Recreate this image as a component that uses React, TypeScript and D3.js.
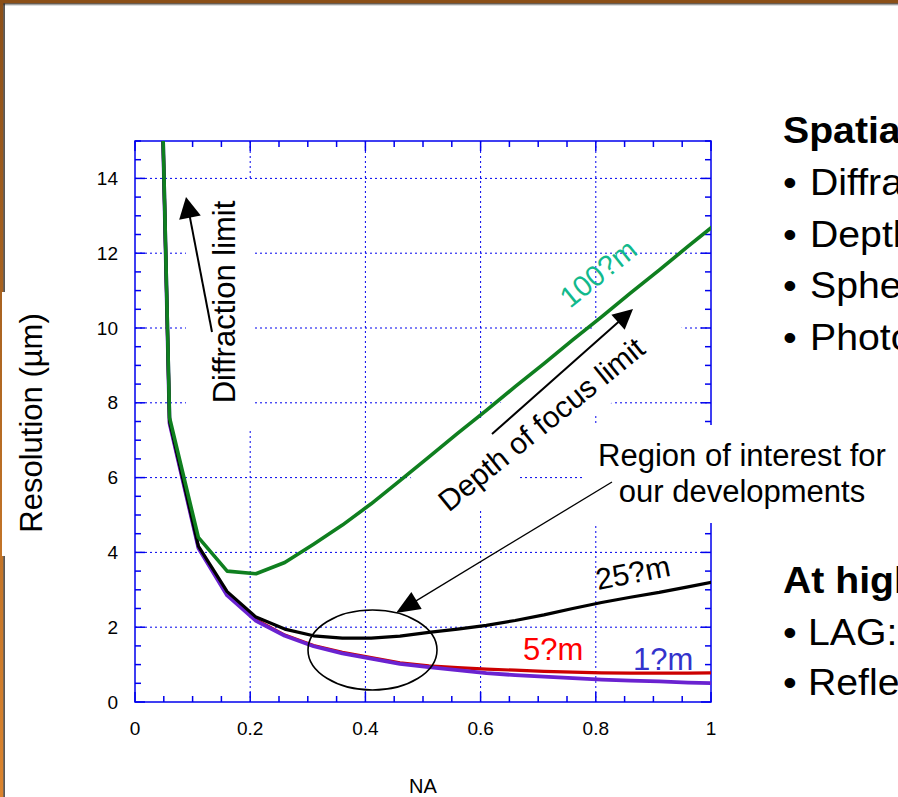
import React from "react";
import * as d3 from "d3";

// Numerical aperture sample points
const NA = [0.01, 0.06, 0.11, 0.16, 0.21, 0.26, 0.31, 0.36, 0.41, 0.46, 0.51, 0.56, 0.61, 0.66, 0.71, 0.76, 0.81, 0.86, 0.91, 0.96, 1.01];

// Resolution (µm) per depth of field / thickness
const res1um = [41, 7.45, 4.12, 2.85, 2.17, 1.77, 1.49, 1.3, 1.16, 1.02, 0.93, 0.85, 0.77, 0.72, 0.68, 0.64, 0.6, 0.57, 0.55, 0.52, 0.5];
const res5um = [41, 7.47, 4.14, 2.87, 2.2, 1.79, 1.51, 1.33, 1.19, 1.05, 0.97, 0.92, 0.88, 0.85, 0.82, 0.8, 0.78, 0.77, 0.77, 0.77, 0.78];
const res25um = [41, 7.5, 4.17, 2.95, 2.27, 1.95, 1.77, 1.71, 1.71, 1.76, 1.86, 1.95, 2.05, 2.18, 2.33, 2.5, 2.66, 2.8, 2.93, 3.08, 3.23];
const res100um = [41, 7.6, 4.4, 3.5, 3.43, 3.73, 4.22, 4.73, 5.3, 5.92, 6.55, 7.18, 7.8, 8.43, 9.05, 9.68, 10.3, 10.93, 11.55, 12.18, 12.8];

const xTicks = [0, 0.2, 0.4, 0.6, 0.8, 1];
const xTickLabels = ["0", "0.2", "0.4", "0.6", "0.8", "1"];
const yTicks = [0, 2, 4, 6, 8, 10, 12, 14];

const topicLines = ["Diffraction", "Depth", "Spherical", "Photon"];
const highLines = ["LAG:", "Reflection"];

const W = 898;
const H = 797;
const FONT = "'Liberation Sans', Arial, Helvetica, sans-serif";
const BLUE = "#0000EE";
const SIDE_STRETCH = 1.06;

const x = d3.scaleLinear().domain([0, 1]).range([135, 711]);
const y = d3.scaleLinear().domain([0, 15]).range([702, 141]);

function seriesPath(vals: number[]) {
  const pts: [number, number][] = NA.map((n, i) => [n, vals[i]]);
  return d3
    .line<[number, number]>()
    .x((d) => x(d[0]))
    .y((d) => y(d[1]))(pts) as string;
}

// Straight arrow with a filled triangular head ending at (x2, y2)
function Arrow({ x1, y1, x2, y2, len, half, sw }: { x1: number; y1: number; x2: number; y2: number; len: number; half: number; sw: number }) {
  const dx = x2 - x1;
  const dy = y2 - y1;
  const d = Math.hypot(dx, dy);
  const ux = dx / d;
  const uy = dy / d;
  const bx = x2 - ux * len;
  const by = y2 - uy * len;
  const px = -uy;
  const py = ux;
  const head = `${x2},${y2} ${bx + px * half},${by + py * half} ${bx - px * half},${by - py * half}`;
  return (
    <g>
      <line x1={x1} y1={y1} x2={bx + ux * 2} y2={by + uy * 2} stroke="#000" strokeWidth={sw} />
      <polygon points={head} fill="#000" />
    </g>
  );
}

// Rotated white backing box (local u along text, v perpendicular)
function rotBox(cx: number, cy: number, angDeg: number, u0: number, u1: number, v0: number, v1: number) {
  const a = (angDeg * Math.PI) / 180;
  const d = [Math.cos(a), Math.sin(a)];
  const n = [-Math.sin(a), Math.cos(a)];
  const p = (u: number, v: number) => `${cx + u * d[0] + v * n[0]},${cy + u * d[1] + v * n[1]}`;
  return [p(u0, v0), p(u1, v0), p(u1, v1), p(u0, v1)].join(" ");
}

function SideText({ tx, ty, bold, children }: { tx: number; ty: number; bold?: boolean; children: React.ReactNode }) {
  return (
    <text transform={`translate(${tx},${ty}) scale(${SIDE_STRETCH},1)`} fontSize={37} fontWeight={bold ? "bold" : "normal"}>
      {children}
    </text>
  );
}

export default function App() {
  const minorX = d3.range(0, 1.0001, 0.05);
  const minorY = d3.range(0, 15.0001, 0.5);
  const left = x(0);
  const right = x(1);
  const top = y(15);
  const bottom = y(0);

  return (
    <svg width={W} height={H} style={{ position: "absolute", left: 0, top: 0, background: "#fff" }} fontFamily={FONT}>
      <defs>
        <linearGradient id="edge" x1="0" y1="0" x2="0" y2="1">
          <stop offset="0" stopColor="#8B4F18" />
          <stop offset="1" stopColor="#DB842E" />
        </linearGradient>
        <clipPath id="plotClip">
          <rect x={left} y={top} width={right - left} height={bottom - top} />
        </clipPath>
      </defs>
      <rect x={0} y={0} width={W} height={H} fill="#fff" />

      {/* frame border */}
      <rect x={0} y={0} width={W} height={3.5} fill="#8B4F18" />
      <rect x={0} y={3.5} width={W} height={1} fill="#111" />
      <rect x={0} y={4.5} width={W} height={1} fill="#bbb" />
      <rect x={0} y={0} width={3.5} height={H} fill="url(#edge)" />
      <rect x={3.5} y={3.5} width={1.2} height={H} fill="#111" />

      {/* grid */}
      <g stroke={BLUE} strokeWidth={1} strokeDasharray="2,3">
        {xTicks.slice(1, -1).map((t) => (
          <line key={"gx" + t} x1={x(t)} x2={x(t)} y1={top} y2={bottom} />
        ))}
        {yTicks.slice(1).map((t) => (
          <line key={"gy" + t} x1={left} x2={right} y1={y(t)} y2={y(t)} />
        ))}
      </g>

      {/* axes frame and ticks */}
      <g stroke={BLUE} strokeWidth={1.5}>
        <rect x={left} y={top} width={right - left} height={bottom - top} fill="none" />
        {minorX.map((t, i) => {
          const len = i % 4 === 0 ? 10 : 6;
          return (
            <g key={"tx" + i}>
              <line x1={x(t)} x2={x(t)} y1={bottom} y2={bottom - len} />
              <line x1={x(t)} x2={x(t)} y1={top} y2={top + len} />
            </g>
          );
        })}
        {minorY.map((t, i) => {
          const len = i % 4 === 0 ? 10 : 6;
          return (
            <g key={"ty" + i}>
              <line x1={left} x2={left + len} y1={y(t)} y2={y(t)} />
              <line x1={right} x2={right - len} y1={y(t)} y2={y(t)} />
            </g>
          );
        })}
      </g>

      {/* white backing boxes behind annotations */}
      <g fill="#fff">
        <rect x={2} y={292} width={53} height={264} />
        <rect x={186} y={180} width={66} height={250} />
        <polygon points={rotBox(541, 424, -39, -135, 170, -42, 28)} />
        <rect x={585} y={425} width={313} height={98} />
      </g>

      {/* curves */}
      <g clipPath="url(#plotClip)" fill="none" strokeLinejoin="round">
        <path d={seriesPath(res5um)} stroke="#CC0000" strokeWidth={3.2} />
        <path d={seriesPath(res1um)} stroke="#6A22D0" strokeWidth={3.8} />
        <path d={seriesPath(res25um)} stroke="#000" strokeWidth={3.2} />
        <path d={seriesPath(res100um)} stroke="#0F7F1F" strokeWidth={3.6} />
      </g>

      {/* tick labels */}
      <g fontSize={19} fill="#000">
        {xTicks.map((t, i) => (
          <text key={"lx" + t} x={x(t)} y={735} textAnchor="middle">
            {xTickLabels[i]}
          </text>
        ))}
        {yTicks.map((t) => (
          <text key={"ly" + t} x={118} y={y(t)} dy="0.35em" textAnchor="end">
            {t}
          </text>
        ))}
      </g>
      <text x={(left + right) / 2} y={793} fontSize={20} textAnchor="middle">NA</text>
      <text transform="translate(42,423) rotate(-90)" fontSize={31} textAnchor="middle">Resolution (µm)</text>

      {/* annotations */}
      <text transform="translate(235,302) rotate(-90)" fontSize={31} textAnchor="middle">Diffraction limit</text>
      <Arrow x1={212} y1={332} x2={186} y2={197} len={21} half={11} sw={2} />

      <text transform="translate(541,424) rotate(-39)" fontSize={30} textAnchor="middle" dy="0.36em">Depth of focus limit</text>
      <Arrow x1={492} y1={434} x2={633} y2={309} len={20} half={10} sw={2} />

      <text fontSize={31} textAnchor="middle">
        <tspan x={742} y={466}>Region of interest for</tspan>
        <tspan x={742} y={502}>our developments</tspan>
      </text>
      <Arrow x1={612} y1={482} x2={396} y2={613} len={24} half={10} sw={1.3} />
      <ellipse cx={372.5} cy={650} rx={64.5} ry={40} fill="none" stroke="#000" strokeWidth={1.6} />

      <text transform="translate(570,309) rotate(-39)" fontSize={29} fill="#12B98C">100?m</text>
      <text transform="translate(598,590) rotate(-11)" fontSize={30} fill="#000">25?m</text>
      <text x={523} y={660} fontSize={31} fill="#FF0000">5?m</text>
      <text x={633} y={670} fontSize={31} fill="#3333CC">1?m</text>

      {/* side text */}
      <SideText tx={783} ty={143} bold>Spatial</SideText>
      {topicLines.map((s, i) => (
        <g key={s}>
          <SideText tx={783} ty={195 + i * 51.7}>•</SideText>
          <SideText tx={810} ty={195 + i * 51.7}>{s}</SideText>
        </g>
      ))}
      <SideText tx={783} ty={593} bold>At high</SideText>
      {highLines.map((s, i) => (
        <g key={s}>
          <SideText tx={783} ty={645 + i * 50}>•</SideText>
          <SideText tx={808} ty={645 + i * 50}>{s}</SideText>
        </g>
      ))}
    </svg>
  );
}
